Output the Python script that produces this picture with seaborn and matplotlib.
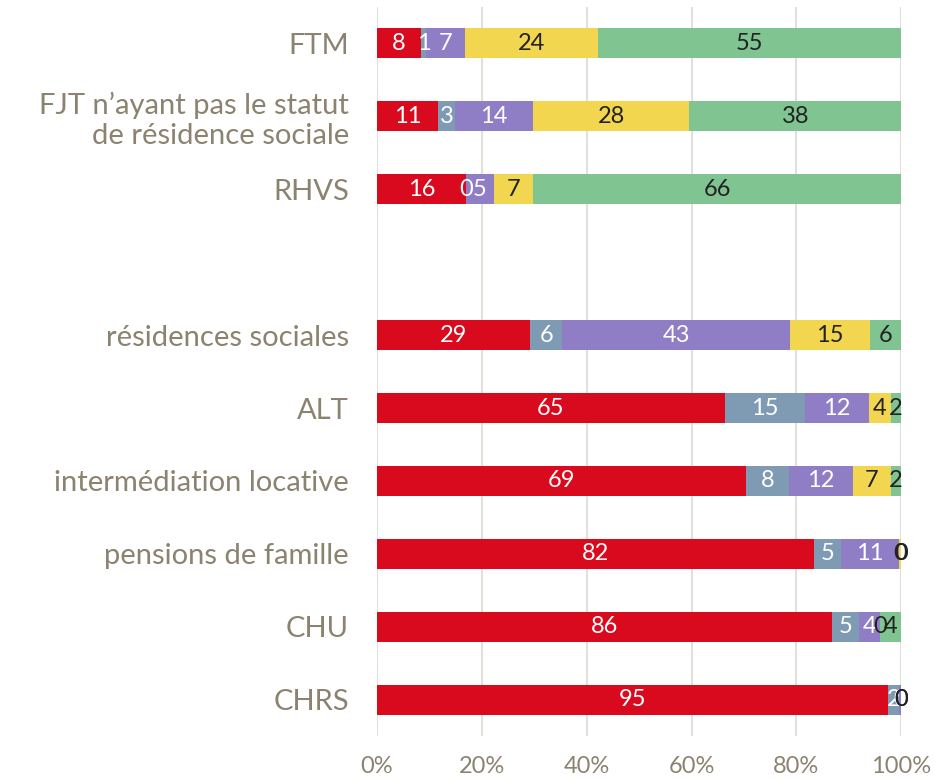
import matplotlib
matplotlib.use("Agg")
import matplotlib.pyplot as plt
import numpy as np
import pandas as pd
import seaborn as sns

# categories top -> bottom (empty slot between RHVS and résidences sociales)
categories = [
    "FTM",
    "FJT n\u2019ayant pas le statut\nde résidence sociale",
    "RHVS",
    " ",
    "résidences sociales",
    "ALT",
    "intermédiation locative",
    "pensions de famille",
    "CHU",
    "CHRS",
]

# five series, values
s_red = [8, 11, 16, np.nan, 29, 65, 69, 82, 86, 95]
s_blue = [1, 3, 0, np.nan, 6, 15, 8, 5, 5, 2]
s_purple = [7, 14, 5, np.nan, 43, 12, 12, 11, 4, 0.5]
s_yellow = [24, 28, 7, np.nan, 15, 4, 7, 0.4, 0, 0]
s_green = [55, 38, 66, np.nan, 6, 2, 2, 0, 4, 0]

series = [s_red, s_blue, s_purple, s_yellow, s_green]
colors = ["#DA0A1E", "#7F9BB4", "#8F7DC6", "#F2D650", "#80C492"]
text_colors = ["white", "white", "white", "#222222", "#222222"]
xticks = [0, 20, 40, 60, 80, 100]

vals = np.array(series, dtype=float)
totals = np.nansum(vals, axis=0)
totals[totals == 0] = np.nan
pct = vals / totals * 100
cum = np.cumsum(pct, axis=0)

fig = plt.figure(figsize=(9.35, 7.79), dpi=100)
ax = fig.add_axes([0.403, 0.0546, 0.561, 0.937])

# stacked bars: draw cumulative totals from the last segment to the first
for i in range(len(series) - 1, -1, -1):
    df = pd.DataFrame({"cat": categories, "val": cum[i]})
    sns.barplot(data=df, x="val", y="cat", order=categories, color=colors[i],
                saturation=1, width=0.41, orient="h", ax=ax, zorder=2)

label_font = ["Lato", "DejaVu Sans"]
for i in range(len(series)):
    start = cum[i] - pct[i]
    for j, cat in enumerate(categories):
        if np.isnan(vals[i][j]):
            continue
        ax.text(start[j] + pct[i][j] / 2, j, f"{vals[i][j]:.0f}",
                ha="center", va="center", color=text_colors[i],
                fontsize=17, family=label_font, zorder=3)

ax.set_xlim(0, 100)
ax.set_ylim(len(categories) - 0.5, -0.5)
ax.set_xticks(xticks)
ax.set_xticklabels([f"{t}%" for t in xticks])
ax.set_xlabel("")
ax.set_ylabel("")
ax.grid(axis="x", color="#E2E0DA", linewidth=1.5, zorder=0)
ax.grid(axis="y", visible=False)
ax.set_axisbelow(True)
for sp in ax.spines.values():
    sp.set_visible(False)
ax.tick_params(axis="both", length=0, colors="#8C8270")
ax.tick_params(axis="y", pad=20, labelsize=21)
ax.tick_params(axis="x", pad=14, labelsize=17)
for lab in ax.get_yticklabels() + ax.get_xticklabels():
    lab.set_family(label_font)

fig.savefig("out.png", dpi=100)
